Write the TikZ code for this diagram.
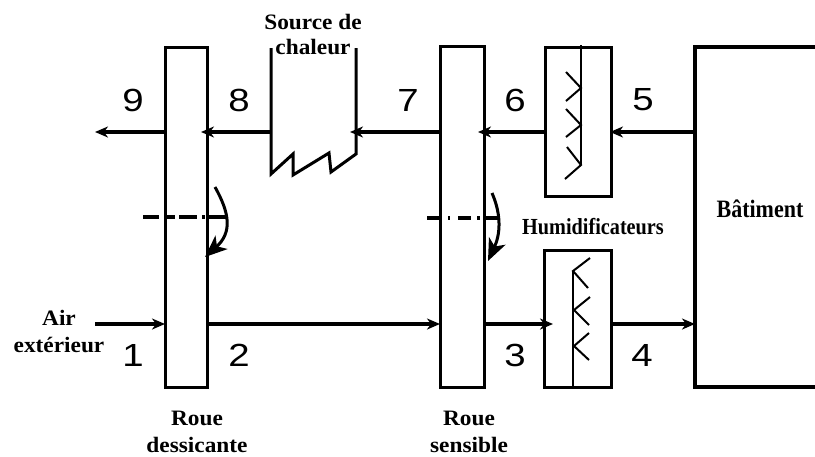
\documentclass[tikz,border=0pt]{standalone}
\usepackage{fontspec}
\usepackage{tikz}
\usetikzlibrary{positioning}
\usetikzlibrary{arrows.meta}
\usetikzlibrary{calc}
\newfontfamily\chiffrefont[FakeStretch=1.2]{Liberation Sans}
\newfontfamily\titrefont[FakeStretch=1.06]{Liberation Serif}
\newfontfamily\etroitfont[FakeStretch=0.88]{Liberation Serif}

\begin{document}
\begin{tikzpicture}[
  x=1pt, y=-1pt,
  wheel/.style={draw, line width=3pt, minimum width=42pt, minimum height=340pt, outer sep=0pt, inner sep=0pt},
  humid/.style={draw, line width=3pt, minimum width=66pt, outer sep=0pt, inner sep=0pt},
  flow/.style={-{Stealth[length=13pt, width=11pt, inset=4pt]}, line width=3.6pt},
  into/.style={shorten >=-6pt},
  axe/.style={line width=3.2pt},
  rot/.style={-{Stealth[length=22pt, width=18pt, inset=6pt]}, line width=3pt},
  spray/.style={line width=2pt},
  chiffre/.style={font=\chiffrefont\fontsize{32}{33}\selectfont},
  titre/.style={font=\titrefont\bfseries\fontsize{22}{27}\selectfont, align=center, inner sep=0pt},
  etroit/.style={font=\etroitfont\bfseries\fontsize{23}{26}\selectfont, inner sep=0pt}
]
\useasboundingbox (0,0) rectangle (815,456);

% Wheels
\node[wheel] (rd) at (186,217) {};
\node[wheel, minimum width=44pt, minimum height=341pt] (rs) at (462,216.5) {};

% Humidifiers
\node[humid, minimum height=149pt] (hh) at (578,121.5) {};
\node[humid, minimum width=67pt, minimum height=137pt] (hb) at (577.5,318.5) {};

\draw[spray] (581,45) -- (581,165);
\draw[spray] (566,72) -- (581,88) -- (566,101);
\draw[spray] (566,109) -- (581,125) -- (566,137);
\draw[spray] (567,147) -- (581,165) -- (565,179);

\draw[spray] (573,387) -- (573,271);
\draw[spray] (590,258) -- (573,271) -- (588,288);
\draw[spray] (590,297) -- (574,310) -- (589,325);
\draw[spray] (589,333) -- (574,346) -- (589,360);

% Building, open on the right
\coordinate (bat) at (695,217);
\draw[line width=3.2pt] (815,47) -- (695,47) -- (695,387) -- (815,387);
\node[etroit, font=\etroitfont\bfseries\fontsize{25}{26}\selectfont] (batiment) at (760,209) {Bâtiment};

% Heat source, open at the top
\coordinate (srcG) at (271,132);
\coordinate (srcD) at (356,132);
\draw[line width=3pt, line join=miter] (271,48) -- (271,174) -- (293,154) -- (293,175) -- (329,153) -- (331,172) -- (356,154) -- (356,48);
\node[titre] (source) at (313,34) {Source de\\[-2pt]chaleur};

% Free ends
\coordinate (sortie) at (95,132);
\coordinate (entree) at (95,324);

% Return air
\draw[flow] (bat |- srcD) -- ([xshift=-1pt]hh.east |- srcD);
\draw[flow, into] (hh.west |- srcD) -- (rs.east |- srcD);
\draw[flow, into] (rs.west |- srcD) -- (srcD);
\draw[flow, into] (srcG) -- (rd.east |- srcG);
\draw[flow] (rd.west |- srcG) -- (sortie);

% Supply air
\draw[flow] (entree) -- (rd.west |- entree);
\draw[flow] (rd.east |- entree) -- (rs.west |- entree);
\draw[flow, shorten >=-9pt] (rs.east |- entree) -- (hb.west |- entree);
\draw[flow] (hb.east |- entree) -- (bat |- entree);

% Rotation axes
\draw[axe, dash pattern=on 16pt off 7pt on 9pt off 4pt on 18pt off 5pt on 3pt off 3pt on 20pt] ($(rd.west)+(-22,0)$) -- ($(rd.east)+(20,0)$);
\draw[axe, dash pattern=on 13pt off 8pt on 2pt off 8pt on 13pt off 6pt on 3pt off 5pt on 14pt] ($(rs.west)+(-13,1.5)$) -- ($(rs.east)+(14,1.5)$);

% Rotation arrows
\draw[rot] (215,187) .. controls (229,212) and (233,232) .. (205,257);
\draw[rot] (492,193) .. controls (502,216) and (500,235) .. (488,261);

% Numbers
\node[chiffre] (n9) at (133,100) {9};
\node[chiffre] (n8) at (239,100) {8};
\node[chiffre] (n7) at (408,100) {7};
\node[chiffre] (n6) at (515,100) {6};
\node[chiffre] (n5) at (643,100) {5};
\node[chiffre] (n1) at (133,355) {1};
\node[chiffre] (n2) at (239,355) {2};
\node[chiffre] (n3) at (515,355) {3};
\node[chiffre] (n4) at (642,355) {4};

% Labels
\node[titre] (air) at (59,331) {Air\\extérieur};
\node[titre] (lrd) at (197,431.5) {Roue\\dessicante};
\node[titre] (lrs) at (469,431.5) {Roue\\sensible};
\node[etroit] (lh) at (593,227) {Humidificateurs};

\end{tikzpicture}
\end{document}
